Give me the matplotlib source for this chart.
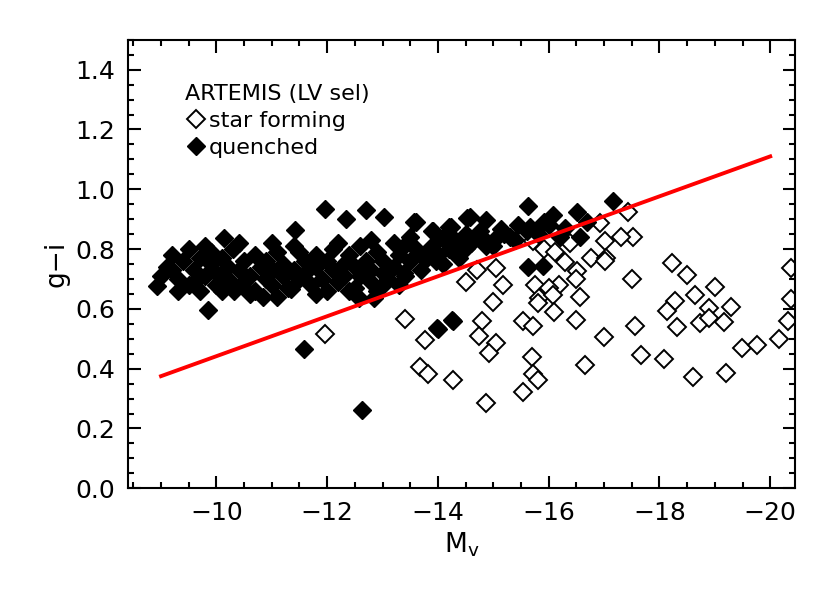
import matplotlib
matplotlib.use("Agg")
import matplotlib.pyplot as plt
from matplotlib.ticker import MultipleLocator

# star forming galaxies (M_V, g-i)
sf_mv = [-17.43, -16.92, -17.52, -17.30, -17.01, -16.39, -15.72, -15.91, -16.11, -16.76,
         -17.03, -17.01, -16.29, -15.04, -14.71, -16.52, -18.22, -18.50, -17.50, -16.49,
         -14.51, -15.18, -15.76, -16.18, -16.00, -19.00, -20.38, -18.64, -16.56, -15.82,
         -16.07, -15.00, -15.80, -18.28, -18.89, -19.29, -18.13, -20.38, -16.09, -13.41,
         -14.80, -15.54, -15.71, -16.49, -17.55, -18.32, -18.73, -18.89, -19.17, -20.33,
         -14.75, -13.77, -15.05, -16.99, -14.93, -19.49, -19.76, -20.16, -17.66, -15.69,
         -18.08, -13.68, -13.82, -14.28, -15.72, -15.80, -16.65, -18.61, -19.20, -15.54,
         -14.87, -11.96]
sf_gi = [0.924, 0.888, 0.839, 0.839, 0.826, 0.822, 0.826, 0.799, 0.789, 0.770,
         0.770, 0.760, 0.757, 0.737, 0.730, 0.727, 0.753, 0.714, 0.701, 0.701,
         0.691, 0.681, 0.681, 0.681, 0.671, 0.674, 0.737, 0.645, 0.641, 0.635,
         0.648, 0.622, 0.618, 0.625, 0.602, 0.605, 0.592, 0.632, 0.589, 0.566,
         0.559, 0.559, 0.543, 0.563, 0.543, 0.539, 0.553, 0.569, 0.556, 0.559,
         0.510, 0.497, 0.487, 0.507, 0.451, 0.470, 0.480, 0.500, 0.447, 0.438,
         0.434, 0.405, 0.382, 0.362, 0.382, 0.362, 0.411, 0.372, 0.385, 0.322,
         0.286, 0.516]

# quenched galaxies
q_mv = [-8.93, -9.84, -11.59, -12.63, -12.57, -12.84, -13.06, -13.99, -14.26, -10.14,
        -11.41, -11.96, -12.34, -12.70, -13.03, -13.61, -14.20, -14.53, -13.89, -11.34,
        -10.31, -10.85, -15.62, -17.16, -16.07, -16.52, -14.57, -14.87, -13.57, -14.24,
        -13.91, -14.09, -15.13, -15.45, -15.67, -15.91, -16.21, -16.56, -14.51, -14.76,
        -15.05, -15.31, -14.87, -14.51, -14.38, -13.97, -13.66, -13.42, -13.39, -15.63,
        -15.89, -14.28, -14.00,
        -9.1, -9.2, -9.3, -9.4, -9.5, -9.5, -9.6, -9.7, -9.7, -9.8,
        -9.9, -9.9, -10.0, -10.0, -10.1, -10.2, -10.2, -10.3, -10.3, -10.4,
        -10.5, -10.5, -10.6, -10.7, -10.7, -10.8, -10.9, -10.9, -11.0, -11.0,
        -11.1, -11.2, -11.2, -11.3, -11.4, -11.4, -11.5, -11.6, -11.6, -11.7,
        -11.8, -11.8, -11.9, -12.0, -12.0, -12.1, -12.1, -12.2, -12.3, -12.3,
        -12.4, -12.5, -12.5, -12.6, -12.6, -12.7, -12.8, -12.8, -12.9, -13.0,
        -13.0, -13.1, -13.2, -13.2, -13.3, -13.4, -13.5, -13.6, -13.7, -13.8,
        -13.9, -14.0, -14.1, -14.2, -14.3, -14.6, -14.8, -15.0, -15.2, -15.4,
        -15.6, -15.8, -16.0, -16.3, -16.7, -9.3, -9.6, -10.1, -10.6, -11.1,
        -11.8, -12.4, -12.9, -13.3, -9.8, -10.4, -11.0, -11.5, -12.2, -12.8,
        -13.5, -9.0, -9.2]
q_gi = [0.678, 0.595, 0.467, 0.263, 0.635, 0.638, 0.691, 0.536, 0.563, 0.836,
        0.865, 0.934, 0.901, 0.931, 0.908, 0.891, 0.875, 0.905, 0.859, 0.668,
        0.661, 0.641, 0.944, 0.960, 0.914, 0.924, 0.908, 0.898, 0.891, 0.875,
        0.859, 0.836, 0.868, 0.882, 0.875, 0.891, 0.842, 0.842, 0.849, 0.859,
        0.836, 0.842, 0.809, 0.803, 0.770, 0.760, 0.786, 0.816, 0.720, 0.740,
        0.743, 0.559, 0.533,
        0.74, 0.78, 0.70, 0.76, 0.68, 0.80, 0.73, 0.77, 0.66, 0.71,
        0.79, 0.75, 0.68, 0.72, 0.77, 0.70, 0.74, 0.80, 0.67, 0.73,
        0.76, 0.69, 0.71, 0.78, 0.66, 0.74, 0.70, 0.76, 0.68, 0.73,
        0.79, 0.71, 0.75, 0.67, 0.73, 0.81, 0.70, 0.76, 0.72, 0.68,
        0.78, 0.74, 0.70, 0.76, 0.66, 0.73, 0.80, 0.69, 0.75, 0.71,
        0.78, 0.67, 0.74, 0.81, 0.71, 0.76, 0.69, 0.73, 0.79, 0.72,
        0.76, 0.70, 0.82, 0.74, 0.78, 0.71, 0.76, 0.80, 0.73, 0.77,
        0.81, 0.78, 0.75, 0.80, 0.83, 0.82, 0.84, 0.81, 0.85, 0.83,
        0.86, 0.85, 0.88, 0.87, 0.89, 0.66, 0.69, 0.66, 0.65, 0.64,
        0.65, 0.66, 0.66, 0.68, 0.81, 0.82, 0.82, 0.79, 0.82, 0.83,
        0.84, 0.71, 0.73]

# dividing line
line_mv = [-9.0, -20.0]
line_gi = [0.375, 1.11]

fig = plt.figure(figsize=(8.3, 5.94), dpi=100)
ax = fig.add_axes([0.154, 0.178, 0.804, 0.755])

ax.plot(sf_mv, sf_gi, ls="none", marker="D", ms=9.5, mfc="white", mec="black", mew=1.4,
        label="star forming")
ax.plot(q_mv, q_gi, ls="none", marker="D", ms=9.5, mfc="black", mec="black", mew=1.0,
        label="quenched")
ax.plot(line_mv, line_gi, color="red", lw=2.8)

ax.set_xlim(-8.4, -20.45)
ax.set_ylim(0.0, 1.5)
ax.xaxis.set_major_locator(MultipleLocator(2))
ax.xaxis.set_minor_locator(MultipleLocator(0.5))
ax.yaxis.set_minor_locator(MultipleLocator(0.05))
ax.set_yticks([0.0, 0.2, 0.4, 0.6, 0.8, 1.0, 1.2, 1.4])
ax.yaxis.set_major_formatter(plt.FormatStrFormatter("%.1f"))
ax.tick_params(which="both", direction="in", top=True, right=True, labelsize=18, width=1.5)
ax.tick_params(which="major", length=9, pad=9)
ax.tick_params(which="minor", length=4)
for s in ax.spines.values():
    s.set_linewidth(1.5)

ax.set_xlabel(r"M$_\mathrm{v}$", fontsize=19)
ax.set_ylabel("g\u2212i", fontsize=19)

leg = ax.legend(title="ARTEMIS (LV sel)", loc="upper left", frameon=False, fontsize=16,
                title_fontsize=16, handletextpad=0.1, borderaxespad=0.8, labelspacing=0.3,
                handlelength=1.0, bbox_to_anchor=(0.045, 0.96))
leg._legend_box.align = "left"

fig.savefig("out.png")
